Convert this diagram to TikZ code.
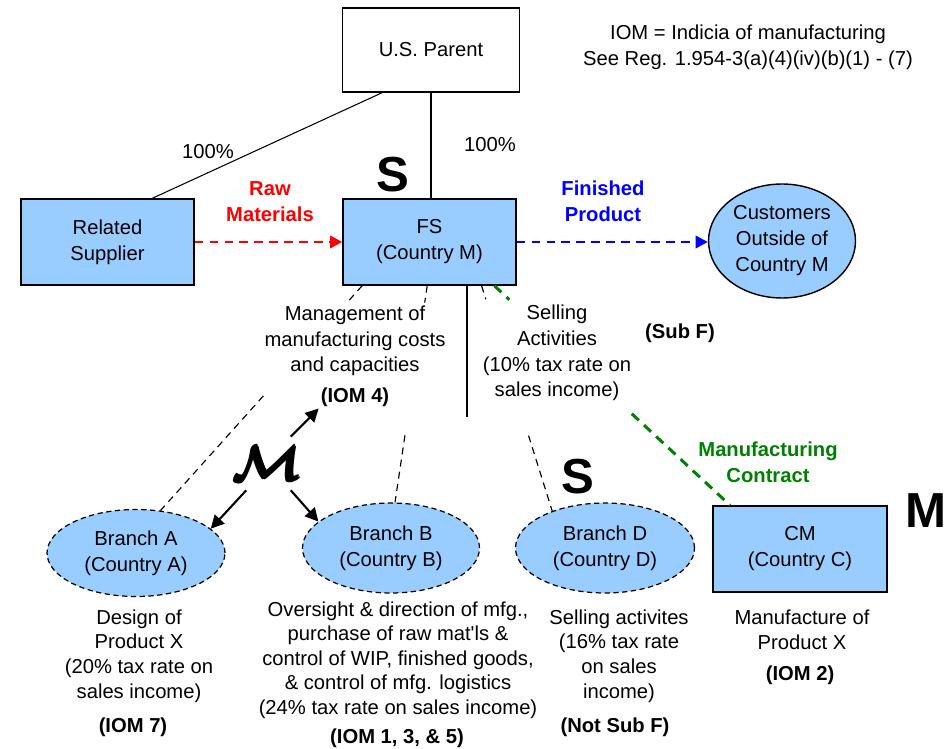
\documentclass[tikz,border=0pt]{standalone}
\usepackage{amsmath}
\usepackage{fontspec}
\setmainfont{Liberation Sans}
\usepackage{bm}
\usetikzlibrary{shapes.geometric,arrows.meta,calc}

\definecolor{boxblue}{HTML}{99CCFF}
\definecolor{dealgreen}{HTML}{008000}

\begin{document}
\begin{tikzpicture}[x=0.02cm, y=-0.02cm, font=\fontsize{11.5}{14}\selectfont]
				\tikzstyle{Entity}	= [draw, line width=0.8pt, fill=boxblue, align=center, inner sep=0pt, minimum width=3.46cm, minimum height=1.72cm, font=\fontsize{11.5}{14.8}\selectfont]
				\tikzstyle{Branch}	= [ellipse, draw, dash pattern=on 3pt off 2pt, line width=0.7pt, fill=boxblue, align=center, inner sep=0pt, font=\fontsize{11.5}{14.8}\selectfont]
				\tikzstyle{Txt}		= [align=center, inner sep=1pt]
				\tikzstyle{Strong}	= [align=center, inner sep=1pt, font=\fontsize{11.5}{14.8}\selectfont\bfseries]
				\tikzstyle{BigLetter}	= [inner sep=0pt, font=\fontsize{28}{30}\selectfont\bfseries]
				\tikzstyle{Owns}	= [line width=0.6pt]
				\tikzstyle{Tie}		= [line width=0.65pt, dash pattern=on 4pt off 3pt]
				\tikzstyle{Flow}	= [line width=1.7pt, dash pattern=on 5pt off 3.5pt, -{Triangle[length=7pt,width=7pt]}]
				\tikzstyle{Deal}	= [line width=1.7pt, dealgreen, dash pattern=on 5.5pt off 4pt]
				\tikzstyle{Push}	= [line width=1.2pt, -{Triangle[length=7.5pt,width=7.5pt]}]

				\useasboundingbox (0,0) rectangle (952,749);

				% entities
				\node (parent) at (431,50) [Entity, fill=white, minimum width=3.54cm, minimum height=1.68cm] {U.S. Parent};
				\node (supplier) at (107.5,242) [Entity] {Related\\Supplier};
				\node (fs) at (429.5,242) [Entity] {FS\\(Country M)};
				\node (cust) at (782,241) [ellipse, draw, line width=0.8pt, fill=boxblue, align=center, inner sep=0pt, minimum width=2.94cm, minimum height=2.28cm, font=\fontsize{11.5}{14.8}\selectfont] {Customers\\Outside of\\Country M};

				\node (brA) at (136,553) [Branch, minimum width=3.56cm, minimum height=1.74cm] {Branch A\\(Country A)};
				\node (brB) at (391,548) [Branch, minimum width=3.54cm, minimum height=1.8cm] {Branch B\\(Country B)};
				\node (brD) at (605,548) [Branch, minimum width=3.58cm, minimum height=1.8cm] {Branch D\\(Country D)};
				\node (cm) at (800,549) [Entity, minimum width=3.48cm] {CM\\(Country C)};

				% ownership
				\draw [Owns] (parent.south) -- (parent.south |- fs.north);
				\draw [Owns] ($(parent.south west)!0.226!(parent.south east)$) -- ($(supplier.north west)!0.757!(supplier.north east)$);
				\node (pctA) at (208,152) [Txt] {100\%};
				\node (pctB) at (490,145) [Txt] {100\%};
				\node (sFS) at (393,175) [BigLetter] {S};

				% flows
				\draw [Flow, red] (supplier) -- (fs);
				\draw [Flow, blue] (fs.east) -- (fs.east -| cust.west);
				\node (raw) at (270,202) [Strong, text=red] {Raw\\Materials};
				\node (finished) at (603,201) [Strong, text=blue] {Finished\\Product};

				\node (note) at (748,47) [Txt, font=\fontsize{11.5}{14.8}\selectfont] {IOM = Indicia of manufacturing\\See Reg. 1.954-3(a)(4)(iv)(b)(1) - (7)};
				\node (subF) at (680,333) [Strong] {(Sub F)};

				% links down to the branches
				\coordinate (stem) at (467,417);
				\draw [Owns] (fs.south -| stem) -- (stem);
				\draw [Tie] (fs.213) -- ($(fs.213)!0.075!(brA.60)$) ($(fs.213)!0.49!(brA.60)$) -- (brA.60);
				\draw [Tie] (fs.267) -- ($(fs.267)!0.078!(brB.85)$) ($(fs.267)!0.69!(brB.85)$) -- (brB.85);
				\draw [Tie] (fs.320) -- ($(fs.320)!0.06!(brD.145)$) ($(fs.320)!0.665!(brD.145)$) -- (brD.145);
				\draw [Deal] (fs.326) -- ($(fs.326)!0.064!(cm.148)$) ($(fs.326)!0.583!(cm.148)$) -- (cm.148);

				\node (mgmt) at (355,341) [Txt, font=\fontsize{11.5}{14.6}\selectfont] {Management of\\manufacturing costs\\and capacities};
				\node (iom4) at (355,397) [Strong] {(IOM 4)};
				\node (sell) at (557,353) [Txt, font=\fontsize{11.5}{14.6}\selectfont] {Selling\\Activities\\(10\% tax rate on\\sales income)};
				\node (contract) at (768,462) [Strong, text=dealgreen] {Manufacturing\\Contract};
				\node (sBrD) at (578,477) [BigLetter] {S};
				\node (mCM) at (926,511) [BigLetter] {M};

				% manufacturing functions
				\node (mgr) at (268.5,463.5) [scale=1.15, inner xsep=-6.3pt, inner ysep=0pt, minimum height=0.92cm, font=\fontsize{24.88}{26}\selectfont\boldmath] {$\pmb{\mathcal{M}}$};
				\draw [Push] (mgr.north east) -- (iom4.south west);
				\draw [Push] (mgr.south west) -- (brA.18);
				\draw [Push] (mgr.south east) -- (brB.160);

				% functions of each unit
				\node (designA) at (139,656) [Txt] {Design of\\Product X\\(20\% tax rate on\\sales income)};
				\node (iom7) at (133,727) [Strong] {(IOM 7)};
				\node (overB) at (398,660) [Txt] {Oversight \& direction of mfg.,\\purchase of raw mat\textquotesingle ls \&\\control of WIP, finished goods,\\\& control of mfg. logistics\\(24\% tax rate on sales income)};
				\node (iom135) at (397,738) [Strong] {(IOM 1, 3, \& 5)};
				\node (sellD) at (619,656) [Txt] {Selling activites\\(16\% tax rate\\on sales\\income)};
				\node (notSubF) at (615,727) [Strong] {(Not Sub F)};
				\node (makeC) at (802,630) [Txt] {Manufacture of\\Product X};
				\node (iom2) at (800,675) [Strong] {(IOM 2)};
			\end{tikzpicture}
\end{document}
